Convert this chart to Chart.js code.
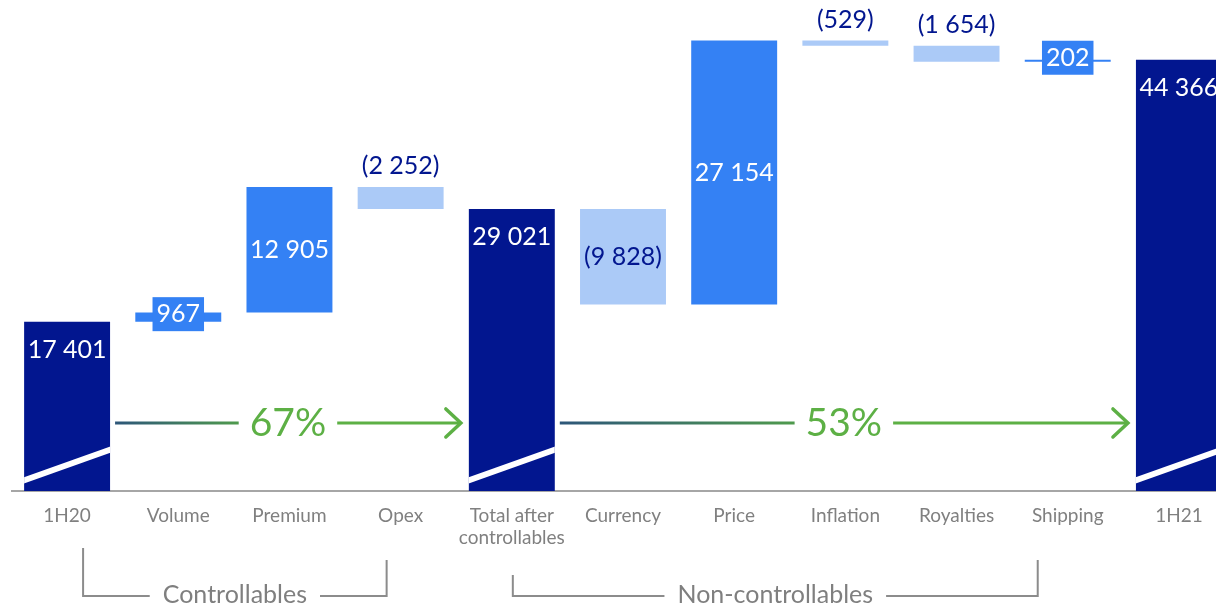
<!DOCTYPE html>
<html>
<head>
<meta charset="utf-8">
<script src="https://cdn.jsdelivr.net/npm/chart.js@4"></script>
<style>
  html, body { margin: 0; padding: 0; background: #fff; overflow: hidden; }
  #wrap { width: 1240px; height: 605px; }
</style>
</head>
<body>
<div id="wrap"><canvas id="bridge" width="1240" height="605"></canvas></div>
<script>
// EBITDA bridge 1H20 -> 1H21
const categories = ['1H20', 'Volume', 'Premium', 'Opex', ['Total after', 'controllables'],
    'Currency', 'Price', 'Inflation', 'Royalties', 'Shipping', '1H21'];
const changes = [17401, 967, 12905, -2252, 29021, -9828, 27154, -529, -1654, 202, 44366];
const isTotal = [true, false, false, false, true, false, false, false, false, false, true];
const groupNames = ['Controllables', 'Non-controllables'];
const shareLabels = ['67%', '53%'];

const NAVY = '#02168f';
const BLUE = '#3481f4';
const LIGHT = '#abcaf7';
const FONT = 'Lato, "Open Sans", sans-serif';

// floating bar ranges
const ranges = [];
let running = 0;
changes.forEach((v, i) => {
    if (isTotal[i]) {
        ranges.push([0, v]);
        running = v;
    } else {
        const next = running + v;
        ranges.push([Math.min(running, next), Math.max(running, next)]);
        running = next;
    }
});
const barColors = changes.map((v, i) => isTotal[i] ? NAVY : (v >= 0 ? BLUE : LIGHT));

const fmt = (n) => {
    const s = Math.abs(n).toString().replace(/\B(?=(\d{3})+(?!\d))/g, ' ');
    return n < 0 ? '(' + s + ')' : s;
};

const overlay = {
    id: 'overlay',
    afterDatasetsDraw(chart) {
        const ctx = chart.ctx;
        const bars = chart.getDatasetMeta(0).data;
        const x = chart.scales.x;
        const y = chart.scales.y;

        // white break stripe on total bars
        bars.forEach((b, i) => {
            if (!isTotal[i]) return;
            const l = b.x - b.width / 2, r = b.x + b.width / 2;
            ctx.save();
            ctx.beginPath();
            ctx.rect(l, b.y, b.width, b.base - b.y);
            ctx.clip();
            ctx.strokeStyle = '#fff';
            ctx.lineWidth = 6;
            ctx.beginPath();
            ctx.moveTo(l - 2, b.base - 10);
            ctx.lineTo(r + 2, b.base - 42);
            ctx.stroke();
            ctx.restore();
        });

        // value labels
        ctx.save();
        ctx.font = '25px ' + FONT;
        ctx.textAlign = 'center';
        ctx.textBaseline = 'middle';
        bars.forEach((b, i) => {
            const v = changes[i];
            const txt = fmt(v);
            const h = b.base - b.y;
            if (isTotal[i]) {
                ctx.fillStyle = '#fff';
                ctx.fillText(txt, b.x, b.y + 28);
            } else if (h > 50) {
                ctx.fillStyle = v >= 0 ? '#fff' : NAVY;
                ctx.fillText(txt, b.x, (b.y + b.base) / 2);
            } else if (v >= 0) {
                const w = ctx.measureText(txt).width + 8;
                const cy = (b.y + b.base) / 2 - 3;
                ctx.fillStyle = BLUE;
                ctx.fillRect(b.x - w / 2, cy - 17, w, 34);
                ctx.fillStyle = '#fff';
                ctx.fillText(txt, b.x, cy);
            } else {
                ctx.fillStyle = NAVY;
                ctx.fillText(txt, b.x, b.y - 21);
            }
        });
        ctx.restore();

        // share arrows between totals
        const totals = bars.map((b, i) => i).filter(i => isTotal[i]);
        const ay = y.getPixelForValue(7000);
        ctx.save();
        ctx.font = '39px ' + FONT;
        ctx.textAlign = 'center';
        ctx.textBaseline = 'middle';
        for (let k = 0; k < totals.length - 1; k++) {
            const a = bars[totals[k]], c = bars[totals[k + 1]];
            const x0 = a.x + a.width / 2 + 5;
            const x1 = c.x - c.width / 2 - 8;
            const mid = (x0 + x1) / 2;
            const half = ctx.measureText(shareLabels[k]).width / 2 + 11;
            const g = ctx.createLinearGradient(x0, 0, mid - half, 0);
            g.addColorStop(0, '#2d5679');
            g.addColorStop(1, '#4f9a4d');
            ctx.lineWidth = 3;
            ctx.lineCap = 'butt';
            ctx.strokeStyle = g;
            ctx.beginPath();
            ctx.moveTo(x0, ay);
            ctx.lineTo(mid - half, ay);
            ctx.stroke();
            ctx.strokeStyle = '#5db045';
            ctx.beginPath();
            ctx.moveTo(mid + half, ay);
            ctx.lineTo(x1, ay);
            ctx.stroke();
            ctx.lineCap = 'round';
            ctx.lineWidth = 3.5;
            ctx.beginPath();
            ctx.moveTo(x1 - 15, ay - 14);
            ctx.lineTo(x1, ay);
            ctx.lineTo(x1 - 15, ay + 14);
            ctx.stroke();
            ctx.fillStyle = '#5db045';
            ctx.fillText(shareLabels[k], mid, ay);
        }
        ctx.restore();

        // group brackets under the axis
        const brackets = [
            { l: x.getPixelForValue(0) + 16, r: x.getPixelForValue(3) - 14, lt: 548, rt: 560 },
            { l: x.getPixelForValue(4) + 1, r: x.getPixelForValue(9) - 30, lt: 575, rt: 560 }
        ];
        ctx.save();
        ctx.font = '25px ' + FONT;
        ctx.textAlign = 'center';
        ctx.textBaseline = 'middle';
        ctx.strokeStyle = '#8c8c8c';
        ctx.fillStyle = '#7f7f7f';
        ctx.lineWidth = 2;
        const by = 596;
        brackets.forEach((br, k) => {
            const mid = (br.l + br.r) / 2;
            const half = ctx.measureText(groupNames[k]).width / 2 + 13;
            ctx.beginPath();
            ctx.moveTo(br.l, br.lt);
            ctx.lineTo(br.l, by);
            ctx.lineTo(mid - half, by);
            ctx.moveTo(mid + half, by);
            ctx.lineTo(br.r, by);
            ctx.lineTo(br.r, br.rt);
            ctx.stroke();
            ctx.fillText(groupNames[k], mid, by - 1);
        });
        ctx.restore();
    }
};

new Chart(document.getElementById('bridge'), {
    type: 'bar',
    data: {
        labels: categories,
        datasets: [{
            data: ranges,
            backgroundColor: barColors,
            borderWidth: 0,
            borderSkipped: false,
            categoryPercentage: 1,
            barPercentage: 0.773
        }]
    },
    options: {
        responsive: false,
        animation: false,
        events: [],
        layout: { padding: { top: 5, left: 11.5, right: 5.5, bottom: 0 } },
        plugins: { legend: { display: false }, tooltip: { enabled: false } },
        scales: {
            x: {
                grid: { display: false },
                border: { display: true, color: '#a6a6a6', width: 2 },
                ticks: {
                    color: '#808080',
                    font: { family: FONT, size: 19, lineHeight: 1.15 },
                    padding: 6,
                    autoSkip: false,
                    maxRotation: 0
                },
                afterFit: (scale) => { scale.height = 114; }
            },
            y: { display: false, min: 0, max: 50000 }
        }
    },
    plugins: [overlay]
});
</script>
</body>
</html>
